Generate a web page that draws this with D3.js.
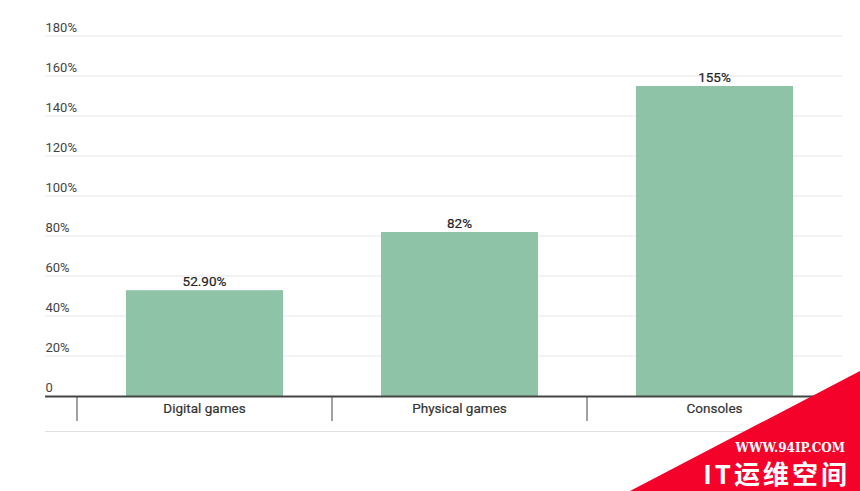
<!DOCTYPE html>
<html><head><meta charset="utf-8">
<script src="https://cdn.jsdelivr.net/npm/d3@7"></script>
<style>body{margin:0;background:#fff}svg{display:block;font-family:Roboto,"Noto Sans",sans-serif}</style>
</head><body><svg id="c" width="860" height="491"></svg>
<script>
const categories = ["Digital games", "Physical games", "Consoles"];
const values = [52.9, 82, 155];
const valueLabels = ["52.90%", "82%", "155%"];
const yTicks = [0, 20, 40, 60, 80, 100, 120, 140, 160, 180];

const svg = d3.select("#c");
const y = d3.scaleLinear().domain([0, 180]).range([396, 36]);
const x = d3.scaleBand().domain(categories).range([77, 842]).paddingInner(0.384).paddingOuter(0.192);

// gridlines
svg.append("g").selectAll("line").data(yTicks.filter(d => d > 0)).join("line")
  .attr("x1", 45).attr("x2", 842).attr("y1", d => y(d)).attr("y2", d => y(d))
  .attr("stroke", "#e6e6e6").attr("stroke-width", 1);
svg.append("g").selectAll("text").data(yTicks).join("text")
  .attr("x", 45.5).attr("y", d => y(d) - 4.5)
  .attr("font-size", 13).attr("fill", "#444")
  .text(d => d === 0 ? "0" : d + "%");

// bars
svg.append("g").selectAll("rect").data(values).join("rect")
  .attr("x", (d, i) => x(categories[i])).attr("width", x.bandwidth())
  .attr("y", d => y(d)).attr("height", d => y(0) - y(d))
  .attr("fill", "#8ec3a7");
svg.append("g").selectAll("text").data(values).join("text")
  .attr("x", (d, i) => x(categories[i]) + x.bandwidth() / 2).attr("y", d => y(d) - 4)
  .attr("text-anchor", "middle").attr("font-size", 13.5).attr("fill", "#222")
  .attr("stroke", "#222").attr("stroke-width", 0.2)
  .text((d, i) => valueLabels[i]);

// baseline
svg.append("line").attr("x1", 45).attr("x2", 845).attr("y1", 396.5).attr("y2", 396.5)
  .attr("stroke", "#444").attr("stroke-width", 2);
// category separators
svg.append("g").selectAll("line").data(categories).join("line")
  .attr("x1", (d) => x(d) - x.step() * 0.192).attr("x2", (d) => x(d) - x.step() * 0.192)
  .attr("y1", 397).attr("y2", 421).attr("stroke", "#444").attr("stroke-width", 1);
svg.append("g").selectAll("text").data(categories).join("text")
  .attr("x", d => x(d) + x.bandwidth() / 2).attr("y", 413)
  .attr("text-anchor", "middle").attr("font-size", 13.5).attr("fill", "#333")
  .attr("stroke", "#333").attr("stroke-width", 0.2)
  .text(d => d);
svg.append("line").attr("x1", 45).attr("x2", 845).attr("y1", 431.5).attr("y2", 431.5)
  .attr("stroke", "#e0e0e0").attr("stroke-width", 1);

// watermark
svg.append("path").attr("d", "M630,491 L860,371 L860,491 Z").attr("fill", "#f5022b");
svg.append("text").attr("x", 845).attr("y", 452).attr("text-anchor", "end")
  .attr("font-family", "'DejaVu Serif', serif").attr("font-weight", "bold").attr("font-size", 12)
  .attr("fill", "#fff").text("WWW.94IP.COM");
svg.append("text").attr("x", 850).attr("y", 484).attr("text-anchor", "end")
  .attr("font-family", "'Noto Sans CJK SC', sans-serif").attr("font-weight", "bold").attr("font-size", 26)
  .attr("letter-spacing", 3)
  .attr("fill", "#fff").text("IT运维空间");
</script></body></html>
